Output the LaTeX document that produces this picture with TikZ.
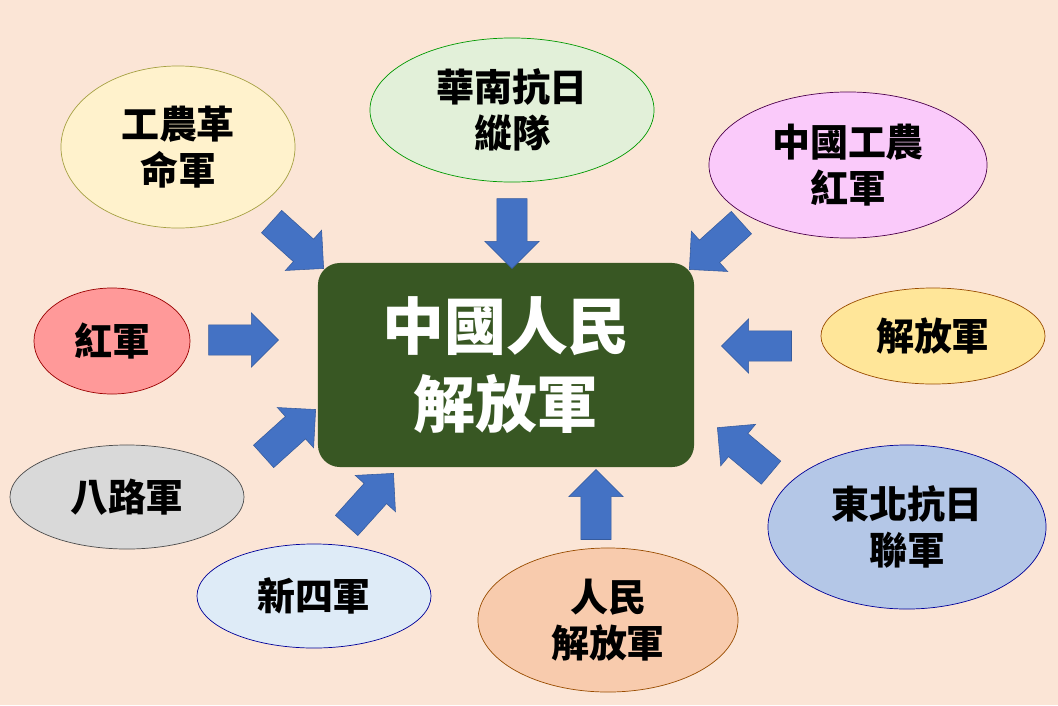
\documentclass[tikz,border=0pt]{standalone}
\usepackage{fontspec}
\setmainfont{Noto Sans CJK TC}
\usetikzlibrary{positioning}
\usetikzlibrary{shapes}
\usetikzlibrary{shapes.arrows}
\definecolor{bgpeach}{HTML}{FBE5D6}
\definecolor{armygreen}{HTML}{385723}
\definecolor{arrowblue}{HTML}{4472C4}
\tikzset{
        % Source armies
        node_army/.style={ellipse, draw=#1!60!black, line width=0.5pt, inner sep=0pt, align=center, font=\fontsize{27}{33}\selectfont\bfseries},
        % Center node
        node_center/.style={rectangle, rounded corners=0.55cm, fill=armygreen, text=white, align=center, inner sep=0pt,
            minimum width=9.4cm, minimum height=5.1cm, font=\fontsize{44}{56}\selectfont\bfseries},
        % Block arrows
        node_arrow/.style={single arrow, fill=arrowblue, draw=arrowblue!80!black, line width=0.4pt, inner xsep=0pt, inner ysep=0.37cm,
            minimum height=1.75cm, single arrow head extend=0.3cm}
}
\begin{document}
\begin{tikzpicture}[x=0.025cm, y=-0.025cm]
    \fill[bgpeach] (0,0) rectangle (1058,705);
    \useasboundingbox (0,0) rectangle (1058,705);

    \node[node_center] (pla) at (506,365) {中國人民\\解放軍};

    \node[node_army=yellow, fill={rgb,255:red,255;green,242;blue,204}, minimum width=5.85cm, minimum height=4.05cm] (gnr) at (178,147) {工農革\\命軍};
    \node[node_army=green, fill={rgb,255:red,226;green,240;blue,217}, minimum width=7.1cm, minimum height=3.6cm] (hn) at (512,110) {華南抗日\\縱隊};
    \node[node_army=violet, fill={rgb,255:red,250;green,202;blue,250}, minimum width=6.95cm, minimum height=3.65cm] (zggn) at (848,165) {中國工農\\紅軍};
    \node[node_army=red, fill={rgb,255:red,255;green,153;blue,153}, minimum width=3.9cm, minimum height=2.65cm] (hj) at (112,341) {紅軍};
    \node[node_army=orange, fill={rgb,255:red,255;green,230;blue,153}, minimum width=5.6cm, minimum height=2.4cm] (jfj) at (933,336) {解放軍};
    \node[node_army=gray, fill={rgb,255:red,217;green,217;blue,217}, minimum width=5.85cm, minimum height=2.6cm] (blj) at (127,497) {八路軍};
    \node[node_army=blue, fill={rgb,255:red,222;green,235;blue,247}, minimum width=5.85cm, minimum height=2.6cm] (xsj) at (314,596) {新四軍};
    \node[node_army=orange, fill={rgb,255:red,248;green,203;blue,173}, minimum width=6.5cm, minimum height=3.6cm] (rm) at (608,620) {人民\\解放軍};
    \node[node_army=blue, fill={rgb,255:red,180;green,199;blue,231}, minimum width=6.95cm, minimum height=4.1cm] (db) at (907,527) {東北抗日\\聯軍};

    % arrows into the center
    \node[node_arrow, rotate=-42] (a1) at (292,240) {};
    \node[node_arrow, rotate=-90] (a2) at (512,226) {};
    \node[node_arrow, rotate=-138] (a3) at (721,241) {};
    \node[node_arrow, rotate=0] (a4) at (236,340) {};
    \node[node_arrow, rotate=180] (a5) at (764,346) {};
    \node[node_arrow, rotate=42] (a6) at (284,438) {};
    \node[node_arrow, rotate=48] (a7) at (365,505) {};
    \node[node_arrow, rotate=90] (a8) at (596,512) {};
    \node[node_arrow, rotate=140] (a9) at (750,455) {};
\end{tikzpicture}
\end{document}
